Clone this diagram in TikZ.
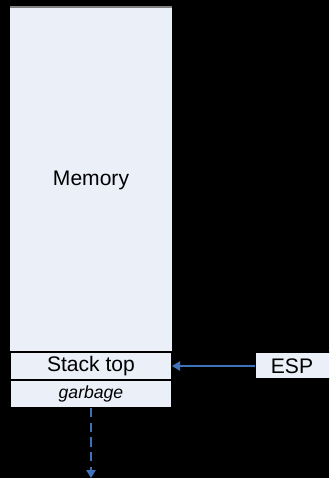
\documentclass[tikz,border=0pt]{standalone}
\usepackage{fontspec}
\setmainfont{Liberation Sans}
\usetikzlibrary{arrows.meta}
\definecolor{cellfill}{HTML}{EAEFF8}
\definecolor{pointer}{HTML}{3F72B8}
\tikzset{
  px/.style={x=0.75pt,y=-0.75pt},
  cell/.style={draw=black,line width=0.9pt,fill=cellfill},
  lbl/.style={font=\fontsize{15.8}{18}\selectfont,text=black},
  link/.style={draw=pointer,line width=1.2pt,-{Triangle[length=6pt,width=7pt]}}
}
\begin{document}
\begin{tikzpicture}[px]
  \useasboundingbox[fill=black] (0,0) rectangle (329,478);
  \begin{scope}
    \clip (0,0) rectangle (329,478);
    % memory column
    \fill[cellfill] (10,7) rectangle (172,352);
    \draw[gray,line width=1pt] (10,7) -- (172,7);
    \node[lbl] (mem) at (91,180) {Memory};
    % stack top cell
    \draw[cell] (10,352) rectangle (172,380);
    \node[lbl] (top) at (91,366) {Stack top};
    \coordinate (topR) at (172,366);
    % garbage cell
    \draw[cell] (10,380) rectangle (172,408);
    \node[font=\fontsize{13.2}{15}\selectfont\itshape] (garb) at (91,394) {garbage};
    \coordinate (garbB) at (91,408);
    \coordinate (down) at (91,478);
    % ESP register
    \draw[cell] (255,352) rectangle (340,379);
    \node[lbl] (esp) at (292,366) {ESP};
    \coordinate (espL) at (255,366);
    % pointers
    \draw[link] (espL) -- (topR);
    \draw[link,dashed,dash pattern=on 7pt off 4pt] (garbB) -- (down);
  \end{scope}
\end{tikzpicture}
\end{document}
